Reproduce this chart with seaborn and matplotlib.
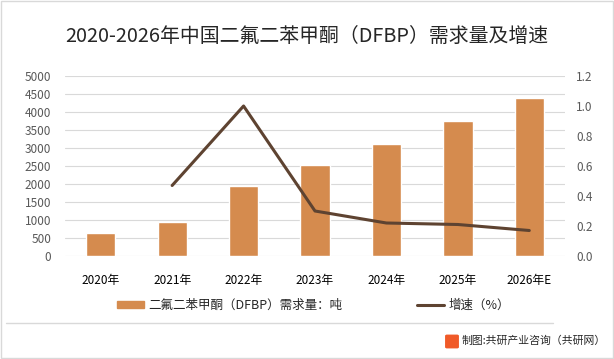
import numpy as np
import pandas as pd
import matplotlib
matplotlib.use('Agg')
import matplotlib.pyplot as plt
import matplotlib.patches as mpatches
import matplotlib.lines as mlines
import seaborn as sns

# Data
years = ['2020年', '2021年', '2022年', '2023年', '2024年', '2025年', '2026年E']
demand = [650, 950, 1950, 2530, 3100, 3750, 4400]
growth_years = ['2021年', '2022年', '2023年', '2024年', '2025年', '2026年E']
growth = [0.47, 1.00, 0.30, 0.22, 0.21, 0.17]

bar_label = '二氟二苯甲酮（DFBP）需求量：吨'
line_label = '增速（%）'
title = '2020-2026年中国二氟二苯甲酮（DFBP）需求量及增速'
source = '制图:共研产业咨询（共研网）'

bar_color = '#D58B4E'
line_color = '#5E4331'
tick_color = '#595959'

sns.set_style('white')
plt.rcParams['font.family'] = ['Noto Sans CJK SC', 'DejaVu Sans']

fig = plt.figure(figsize=(6.14, 3.59), dpi=100)
ax = fig.add_axes([65 / 614, 1 - 256 / 359, 500 / 614, 180 / 359])

df = pd.DataFrame({'year': years, 'demand': demand})
sns.barplot(data=df, x='year', y='demand', order=years, color=bar_color,
            width=0.41, saturation=1, ax=ax, zorder=2)
ax.set_ylim(0, 5000)
ax.set_yticks(np.arange(0, 5001, 500))
ax.grid(axis='y', color='#d9d9d9', linewidth=0.8, zorder=0)
ax.set_axisbelow(True)
ax.set_xlabel('')
ax.set_ylabel('')
for s in ax.spines.values():
    s.set_visible(False)
ax.tick_params(axis='y', length=0, labelsize=8.5, labelcolor=tick_color, pad=10)
ax.tick_params(axis='x', length=0, labelsize=8.5, labelcolor='#000000', pad=13)

ax2 = ax.twinx()
gdf = pd.DataFrame({'year': growth_years, 'growth': growth})
sns.pointplot(data=gdf, x='year', y='growth', order=years, color=line_color,
              markers='', linewidth=2.2, ax=ax2)
ax2.set_ylim(0, 1.2)
ax2.set_yticks(np.arange(0, 1.21, 0.2))
ax2.set_yticklabels([f'{v:.1f}' for v in np.arange(0, 1.21, 0.2)])
ax2.set_xlabel('')
ax2.set_ylabel('')
for s in ax2.spines.values():
    s.set_visible(False)
ax2.tick_params(axis='y', length=0, labelsize=8.5, labelcolor=tick_color, pad=8)
ax2.grid(False)

fig.text(0.5, 1 - 36 / 359, title, ha='center', va='center', fontsize=14.3)

bar_handle = mpatches.Patch(color=bar_color, label=bar_label)
line_handle = mlines.Line2D([], [], color=line_color, linewidth=2.2, label=line_label)
fig.legend(handles=[bar_handle, line_handle], loc='center',
           bbox_to_anchor=(0.51, 1 - 305 / 359), ncol=2, frameon=False,
           fontsize=9, columnspacing=6.0, handlelength=2.2, handleheight=0.5,
           handletextpad=0.3)

# separator and source line
fig.add_artist(mlines.Line2D([0.01, 0.9], [1 - 323 / 359] * 2, color='#d9d9d9', linewidth=1))
fig.add_artist(mpatches.FancyBboxPatch((447 / 614, 1 - 347 / 359), 10 / 614, 11 / 359,
                                       boxstyle='round,pad=0.002', color='#F05A28'))
fig.text(462 / 614, 1 - 341 / 359, source, ha='left', va='center', fontsize=7.8)

# outer frame
fig.add_artist(mpatches.Rectangle((0.002, 0.003), 0.996, 0.994, fill=False,
                                  edgecolor='#d9d9d9', linewidth=1, transform=fig.transFigure))

fig.savefig('out.png', dpi=100)
